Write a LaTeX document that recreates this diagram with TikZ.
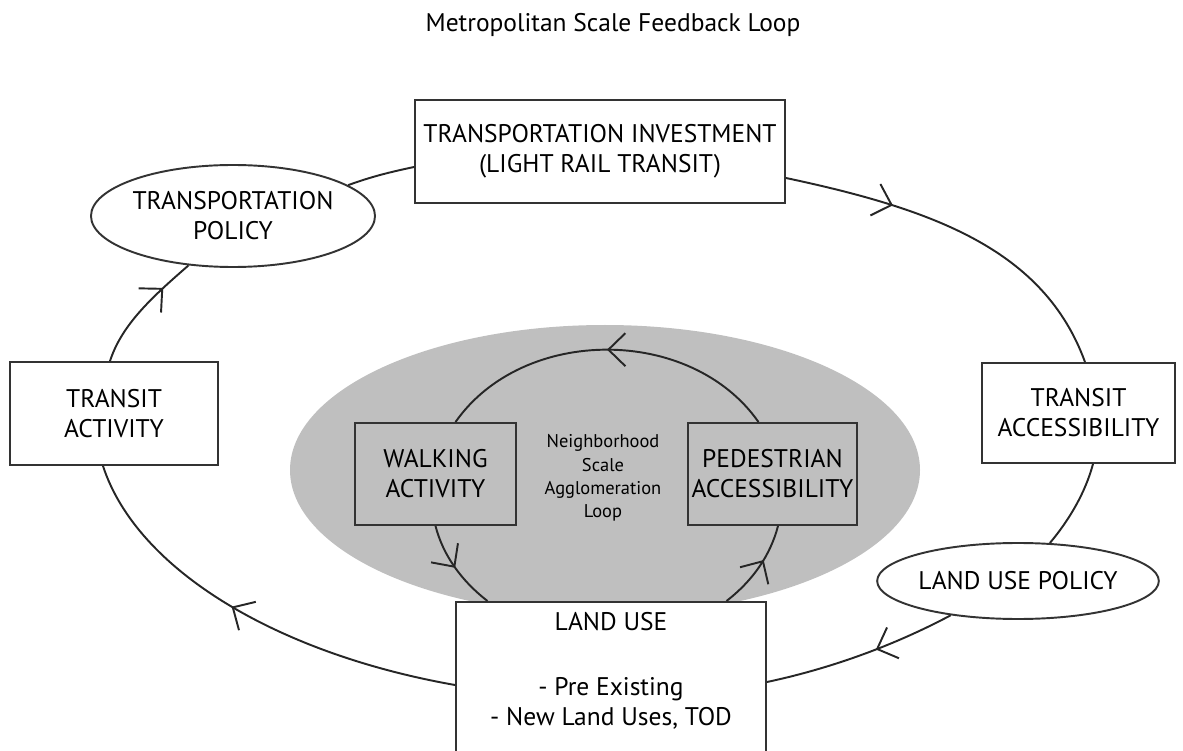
\documentclass[tikz,border=0pt]{standalone}
\usepackage{fontspec}
\setmainfont{PT Sans}
\usetikzlibrary{positioning,calc,arrows.meta,shapes.geometric,decorations.markings}
\definecolor{hoodgray}{gray}{0.75}
\tikzset{
  wire/.style   = {line width=1.1pt, draw=black!85},
  fbox/.style   = {draw=black!80, line width=1.1pt, fill=white, align=center,
                   inner sep=2pt, font=\fontsize{14.5}{17}\selectfont},
  gfbox/.style  = {fbox, fill=hoodgray},
  pol/.style    = {fbox, ellipse, inner sep=0pt},
  lbl/.style    = {font=\fontsize{14.5}{17}\selectfont, inner sep=1pt},
  slbl/.style   = {font=\fontsize{10.5}{13.3}\selectfont, align=center, inner sep=1pt},
  marr/.style   = {postaction={decorate}, decoration={markings,
                   mark=at position #1 with {\arrow{Straight Barb[length=3.4mm,width=6.6mm]}}}},
}

\begin{document}
\begin{tikzpicture}
  \useasboundingbox (0,0) rectangle (23.66,15);
  % neighbourhood patch, under everything
  \fill[hoodgray] (12.1,5.6) ellipse [x radius=6.3, y radius=2.9];
  \node[lbl] (title) at (12.26,14.5) {Metropolitan Scale Feedback Loop};
  % metropolitan loop
  \node[fbox, minimum width=7.4cm, minimum height=2.06cm] (tinv) at (12.0,11.97)
    {TRANSPORTATION INVESTMENT\\(LIGHT RAIL TRANSIT)};
  \node[pol, minimum width=4.8cm, minimum height=2.04cm] (tpol) at (4.66,10.68)
    {TRANSPORTATION\\POLICY};
  \node[fbox, minimum width=4.16cm, minimum height=2.06cm] (tact) at (2.28,6.73)
    {TRANSIT\\ACTIVITY};
  \node[fbox, minimum width=3.86cm, minimum height=2.0cm] (tacc) at (21.57,6.74)
    {TRANSIT\\ACCESSIBILITY};
  \node[pol, minimum width=4.8cm, minimum height=1.52cm] (lupol) at (20.36,3.38)
    {LAND USE POLICY};
  \node[fbox, anchor=north, minimum width=6.2cm, inner ysep=6pt, text depth=2.4cm]
    (luse) at (12.22,2.98) {LAND USE\\[20pt]- Pre Existing\\- New Land Uses, TOD};
  % neighbourhood loop
  \node[gfbox, minimum width=3.22cm, minimum height=2.04cm] (walk) at (8.71,5.52)
    {WALKING\\ACTIVITY};
  \node[gfbox, minimum width=3.22cm, minimum height=2.04cm] (ped) at (15.45,5.52)
    {PEDESTRIAN\\ACCESSIBILITY};
  \node[slbl] (nbl) at (12.06,5.44) {Neighborhood\\Scale\\Agglomeration\\Loop};
  % outer connectors
  \draw[wire, marr=0.73] ($(tact.north)+(-0.08,0)$) .. controls +(72:0.77) and +(221:0.96) .. (tpol.228);
  \draw[wire] (tpol.15) .. controls +(20:0.5) and +(192:0.5) .. ($(tinv.west)+(0,-0.31)$);
  \draw[wire, marr=0.3] ($(tinv.east)+(0,-0.53)$) .. controls +(-12:3.0) and +(110:2.4) .. ($(tacc.north)+(0.13,0)$);
  \draw[wire] ($(tacc.south)+(0.29,0)$) .. controls +(-105:0.6) and +(50:0.6) .. (lupol.50);
  \draw[wire, marr=0.42] (lupol.207) .. controls +(208:1.3) and +(12:1.3) .. ($(luse.north east)+(0,-1.62)$);
  \draw[wire, marr=0.55] ($(luse.north west)+(0,-1.68)$) .. controls +(170:3.62) and +(-72:2.18) .. ($(tact.south)+(-0.22,0)$);
  % inner connectors
  \draw[wire, marr=0.5] ($(ped.north)+(-0.28,0)$) .. controls +(-1.35,1.93) and +(1.35,1.93) .. ($(walk.north)+(0.4,0)$);
  \draw[wire, marr=0.5] (walk.south) .. controls +(0.15,-0.58) and +(-0.53,0.41) .. ($(luse.north)+(-2.47,0)$);
  \draw[wire, marr=0.6] ($(luse.north)+(2.31,0)$) .. controls +(0.53,0.41) and +(-0.15,-0.58) .. ($(ped.south)+(0.11,0)$);
\end{tikzpicture}
\end{document}
